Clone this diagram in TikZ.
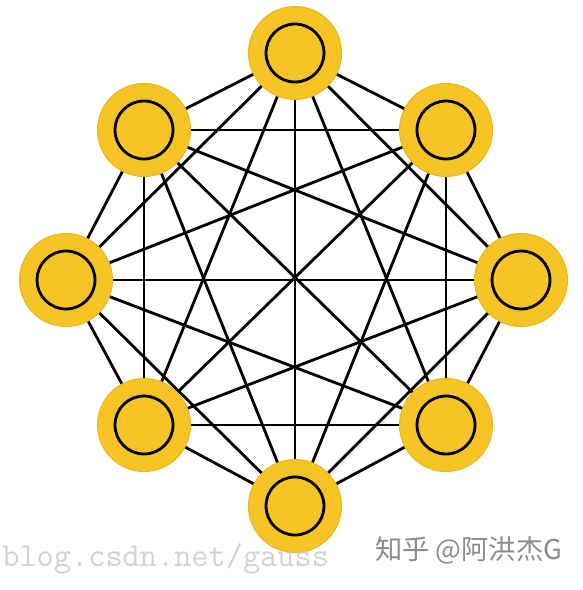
\documentclass[tikz,border=0pt]{standalone}
\usepackage{fontspec}
\newfontfamily\cjkfont{Noto Sans CJK SC}
\definecolor{coinyellow}{RGB}{247,196,38}
\definecolor{coinrim}{RGB}{236,182,30}
\tikzset{
    coin/.style={circle, fill=coinyellow, draw=coinrim, line width=0.6pt, minimum size=1.86cm, inner sep=0pt},
    hole/.style={circle, draw=black, line width=1.6pt, minimum size=1.16cm, inner sep=0pt},
    link/.style={line width=1.6pt, black}
}

\begin{document}
\begin{tikzpicture}[x=0.02cm, y=-0.02cm]
    % Canvas size (pixels of the picture)
    \useasboundingbox (0,0) rectangle (582,590);

    % Node centres round the octagon
    \coordinate (p1) at (295,53);
    \coordinate (p2) at (446,130);
    \coordinate (p3) at (521,280);
    \coordinate (p4) at (446,425);
    \coordinate (p5) at (295,506);
    \coordinate (p6) at (144,425);
    \coordinate (p7) at (66,280);
    \coordinate (p8) at (144,130);

    % Every pair is joined
    \foreach \i in {1,...,7} {
        \pgfmathtruncatemacro\nexti{\i + 1}
        \foreach \j in {\nexti,...,8} {
            \draw[link] (p\i) -- (p\j);
        }
    }

    % Coins on top
    \foreach \i in {1,...,8} {
        \node[coin] (c\i) at (p\i) {};
        \node[hole] (h\i) at (c\i) {};
    }

    % Watermarks
    \node[anchor=base west, text=black!22, opacity=0.8, inner sep=0pt, font=\ttfamily\fontsize{19}{19}\selectfont] (mark1) at (2,566) {blog.csdn.net/gauss};
    \node[anchor=west, text=black!45, inner sep=0pt, font=\cjkfont\fontsize{15.5}{15.5}\selectfont] (mark2) at (375,550) {知乎 @阿洪杰G};

\end{tikzpicture}
\end{document}
